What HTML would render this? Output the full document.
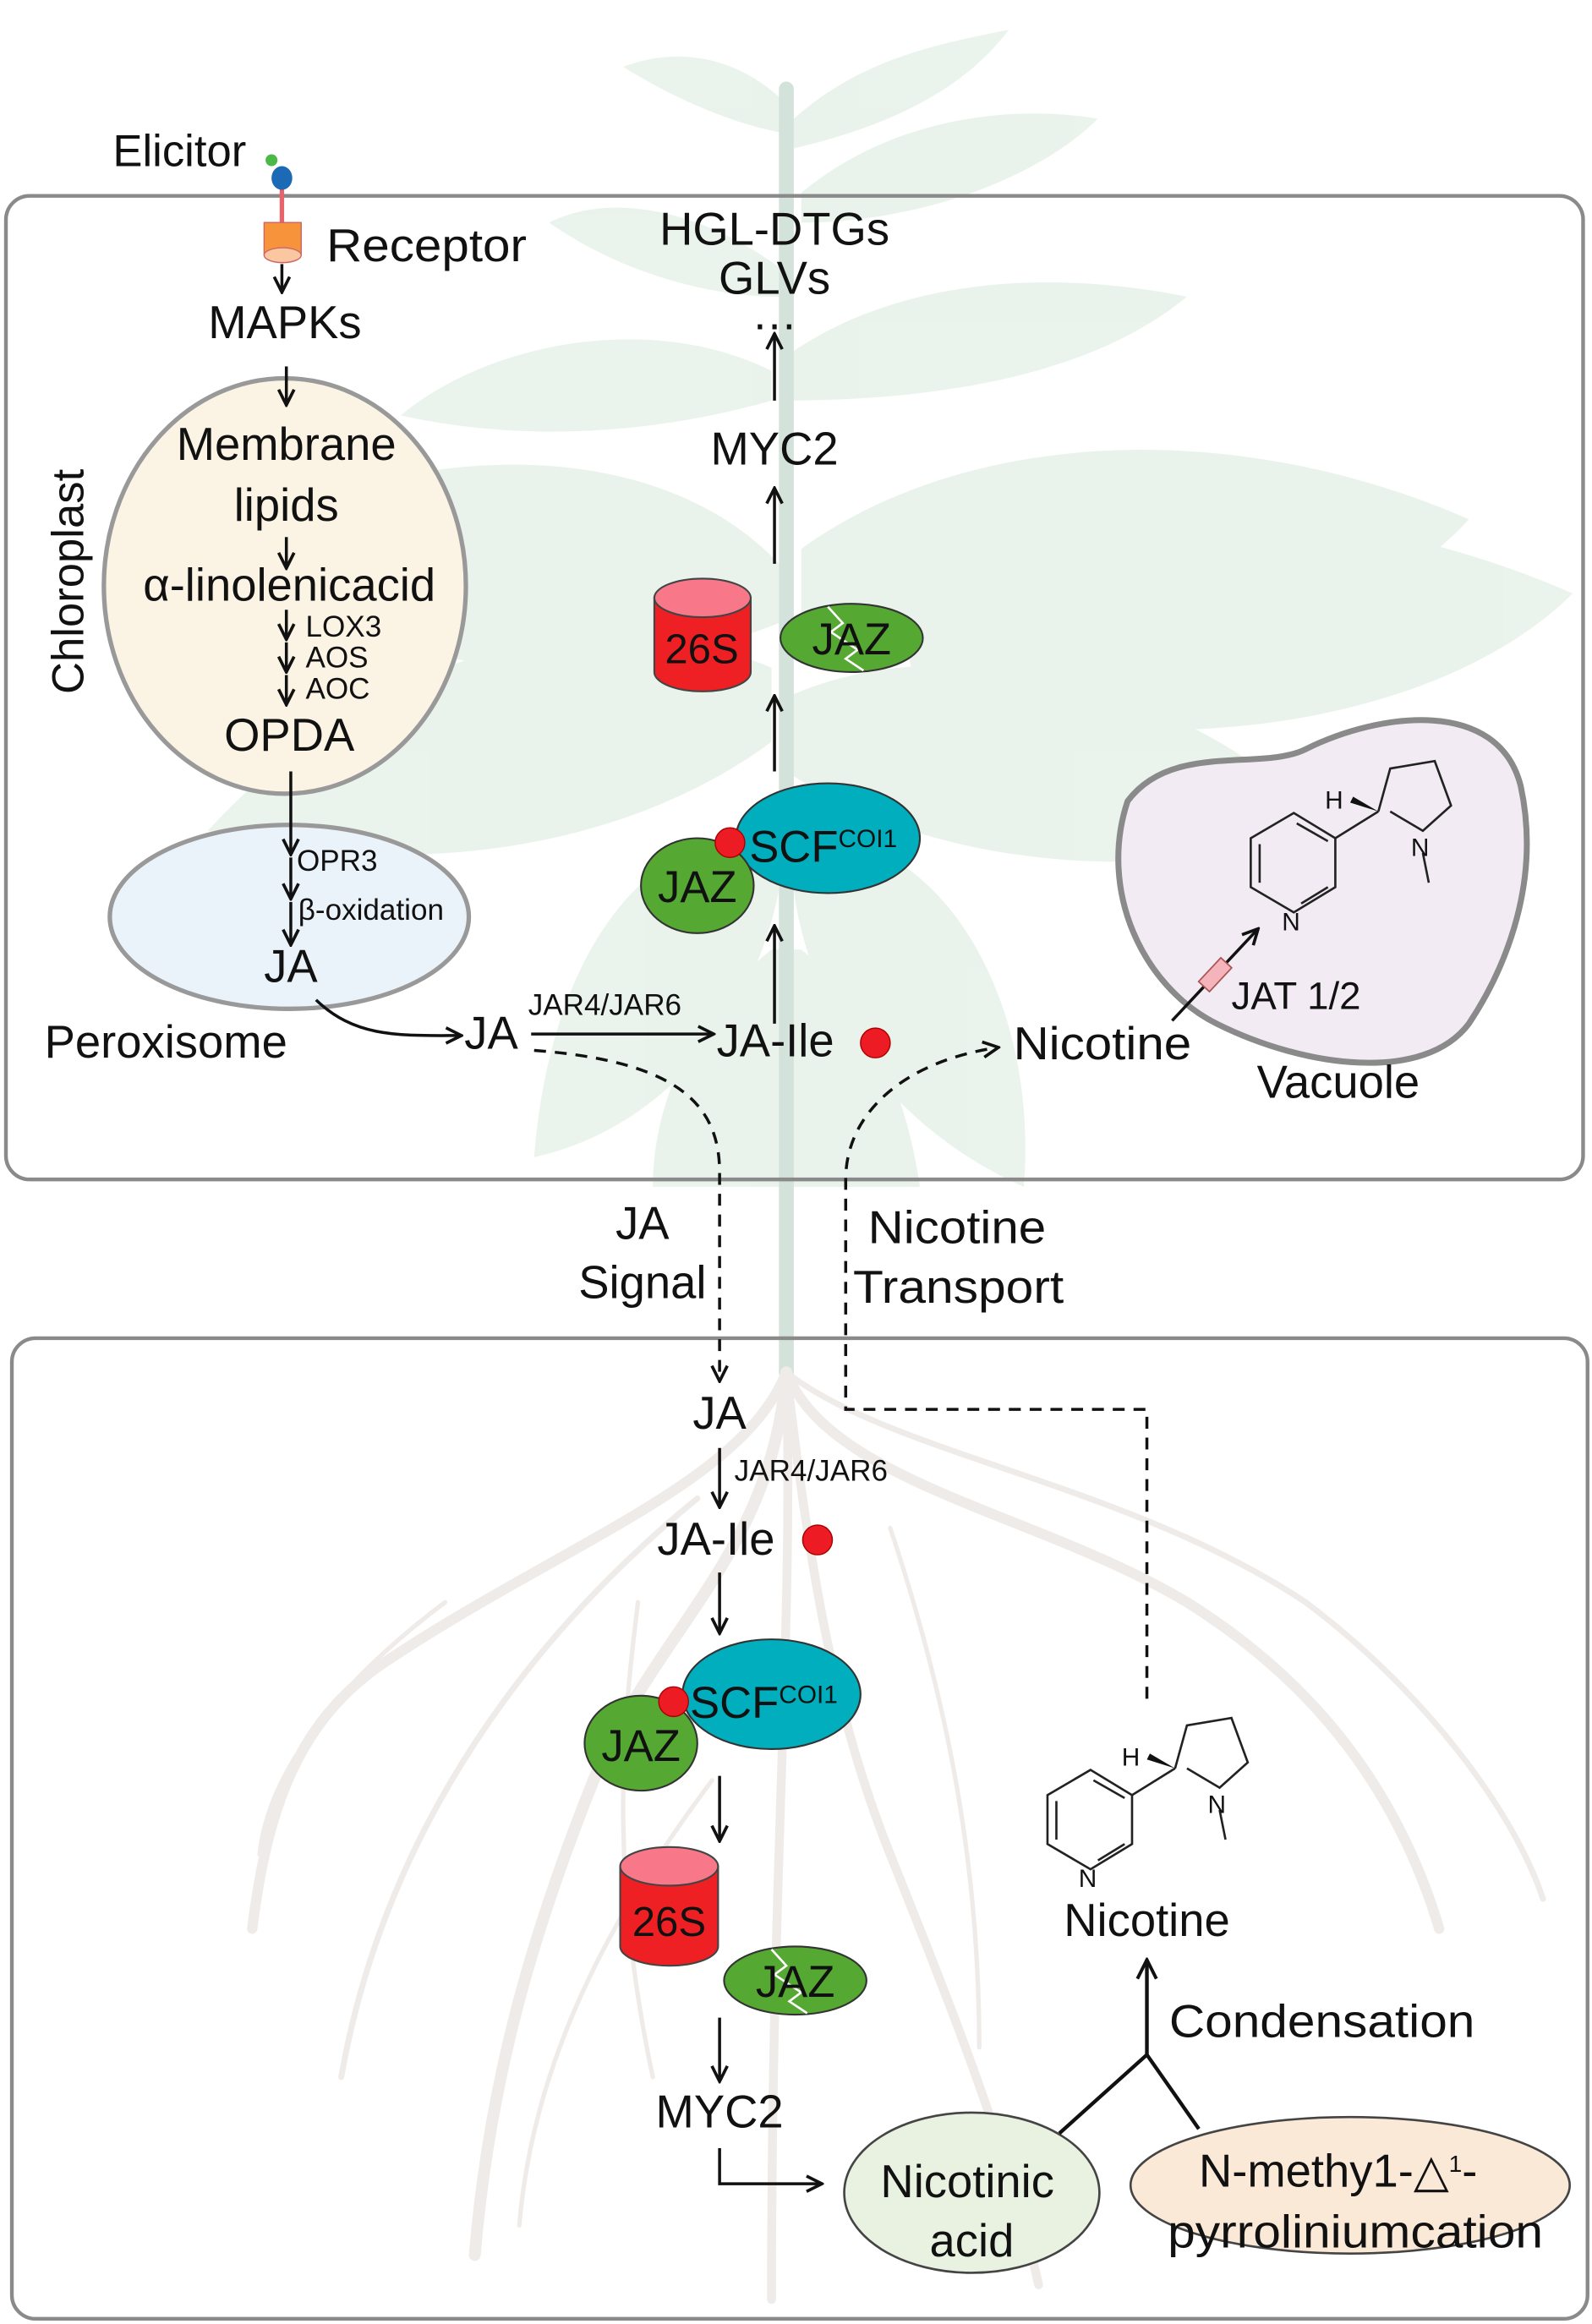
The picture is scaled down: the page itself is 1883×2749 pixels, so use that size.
<!DOCTYPE html>
<html><head><meta charset="utf-8"><style>
html,body{margin:0;padding:0;background:#fff;}
svg{display:block;}
text{font-family:"Liberation Sans",Arial,sans-serif;fill:#111;}
</style></head><body>
<svg width="1883" height="2749" viewBox="0 0 1073 1566.5" preserveAspectRatio="none" xmlns="http://www.w3.org/2000/svg">
<defs>
<marker id="ah" viewBox="0 0 10 10" refX="9" refY="5" markerWidth="13" markerHeight="13" orient="auto" markerUnits="userSpaceOnUse">
<path d="M1,1 L9,5 L1,9" fill="none" stroke="#111" stroke-width="1.6"/>
</marker>
<marker id="ahb" viewBox="0 0 10 10" refX="9" refY="5" markerWidth="16" markerHeight="16" orient="auto" markerUnits="userSpaceOnUse">
<path d="M1,1 L9,5 L1,9" fill="none" stroke="#111" stroke-width="1.4"/>
</marker>
<g id="nic">
<polygon points="706,1210 735,1193 763,1210 763,1243 735,1260 706,1243" fill="none" stroke="#222" stroke-width="1.5"/>
<line x1="712" y1="1214" x2="712" y2="1240" stroke="#222" stroke-width="1.5"/>
<line x1="737" y1="1200" x2="758" y2="1212" stroke="#222" stroke-width="1.5"/>
<line x1="740" y1="1254" x2="758" y2="1243" stroke="#222" stroke-width="1.5"/>
<line x1="763" y1="1210" x2="792" y2="1192" stroke="#222" stroke-width="1.5"/>
<polygon points="792,1192 775,1182 773,1186" fill="#111"/>
<polyline points="792,1192 800,1163 830,1158 841,1188 822,1205 800,1192" fill="none" stroke="#222" stroke-width="1.5"/>
<line x1="822" y1="1220" x2="826" y2="1240" stroke="#222" stroke-width="1.5"/>
<text x="727" y="1272" font-size="17">N</text>
<text x="814" y="1222" font-size="17">N</text>
<text x="756" y="1190" font-size="17">H</text>
</g>
</defs>

<g fill="#dcecdf" opacity="0.6">
<path d="M530,70 C500,40 460,30 420,45 C460,70 500,85 530,90Z"/>
<path d="M535,80 C580,40 630,30 680,20 C650,60 600,85 535,100Z"/>
<path d="M540,130 C600,80 680,70 740,80 C700,120 620,150 540,150Z"/>
<path d="M525,180 C470,140 410,130 370,150 C420,185 480,200 525,200Z"/>
<path d="M530,240 C600,190 700,180 800,200 C740,250 640,270 530,270Z"/>
<path d="M520,250 C440,210 330,230 270,280 C360,300 450,290 520,270Z"/>
<path d="M525,380 C450,300 300,290 150,360 C230,460 400,470 525,420Z"/>
<path d="M540,370 C650,290 830,280 990,350 C900,450 700,460 540,420Z"/>
<path d="M600,400 C720,330 900,330 1060,400 C980,480 800,520 620,470Z"/>
<path d="M520,450 C400,400 250,440 140,560 C300,600 440,560 520,500Z"/>
<path d="M530,470 C640,420 800,460 900,560 C760,600 620,580 530,520Z"/>
<path d="M520,560 C430,560 370,650 360,780 C450,760 510,680 525,600Z"/>
<path d="M535,560 C640,560 700,680 690,800 C600,760 545,680 535,600Z"/>
<path d="M520,640 C470,680 440,740 440,800 L620,800 C610,730 580,670 540,640Z"/>
</g>
<line x1="530" y1="60" x2="530" y2="925" stroke="#d3e2da" stroke-width="10" stroke-linecap="round"/>

<g fill="none" stroke="#efebe8" stroke-linecap="round">
<path d="M530,925 C500,1000 380,1040 260,1120 C200,1160 180,1220 170,1300" stroke-width="7"/>
<path d="M530,925 C560,1000 700,1020 800,1080 C880,1130 940,1200 970,1300" stroke-width="7"/>
<path d="M530,925 C520,1050 440,1100 400,1200 C360,1300 330,1400 320,1520" stroke-width="8"/>
<path d="M530,925 C545,1050 560,1150 600,1250 C640,1350 680,1450 700,1540" stroke-width="6"/>
<path d="M530,925 C535,1100 520,1250 520,1550" stroke-width="6"/>
<path d="M530,925 C600,980 760,1000 880,1080 C960,1140 1020,1220 1040,1280" stroke-width="4"/>
<path d="M470,1010 C360,1100 260,1230 230,1400" stroke-width="4"/>
<path d="M430,1080 C420,1160 410,1260 440,1400" stroke-width="3"/>
<path d="M600,1030 C640,1150 660,1260 660,1380" stroke-width="3"/>
<path d="M300,1080 C220,1140 180,1200 175,1250" stroke-width="3"/>
<path d="M480,1200 C420,1280 360,1380 350,1500" stroke-width="3"/>
</g>

<rect x="4" y="132" width="1063" height="663" rx="16" fill="none" stroke="#8a8a8a" stroke-width="2.5"/>
<rect x="8" y="902" width="1062" height="661" rx="16" fill="none" stroke="#8a8a8a" stroke-width="2.5"/>

<text x="76" y="112" font-size="30">Elicitor</text>
<line x1="190" y1="127" x2="190" y2="150" stroke="#e8646a" stroke-width="3"/>
<circle cx="183" cy="108" r="4" fill="#4cb848"/>
<ellipse cx="190" cy="120" rx="7" ry="8" fill="#1c6ab5"/>
<rect x="178" y="150" width="25" height="22" fill="#f7943b" stroke="#c66" stroke-width="0.8"/>
<ellipse cx="190.5" cy="172" rx="12.5" ry="5" fill="#fbc7a1" stroke="#c66" stroke-width="0.8"/>
<line x1="190" y1="178" x2="190" y2="197" stroke="#111" stroke-width="2" marker-end="url(#ah)"/>
<text x="220" y="176" font-size="31" textLength="135" lengthAdjust="spacingAndGlyphs">Receptor</text>
<text x="192" y="228" font-size="31" text-anchor="middle">MAPKs</text>

<ellipse cx="192" cy="395" rx="122" ry="140" fill="#fbf3e3" stroke="#999" stroke-width="3"/>
<line x1="193" y1="247" x2="193" y2="273" stroke="#111" stroke-width="2" marker-end="url(#ah)"/>
<text x="56" y="392" font-size="30" text-anchor="middle" transform="rotate(-90 56 392)">Chloroplast</text>
<text x="193" y="310" font-size="31" text-anchor="middle">Membrane</text>
<text x="193" y="351" font-size="31" text-anchor="middle">lipids</text>
<line x1="193" y1="362" x2="193" y2="383" stroke="#111" stroke-width="2" marker-end="url(#ah)"/>
<text x="195" y="405" font-size="31" text-anchor="middle">α-linolenicacid</text>
<line x1="193" y1="411" x2="193" y2="431" stroke="#111" stroke-width="2" marker-end="url(#ah)"/>
<line x1="193" y1="433" x2="193" y2="453" stroke="#111" stroke-width="2" marker-end="url(#ah)"/>
<line x1="193" y1="455" x2="193" y2="475" stroke="#111" stroke-width="2" marker-end="url(#ah)"/>
<text x="206" y="429" font-size="20">LOX3</text>
<text x="206" y="450" font-size="20">AOS</text>
<text x="206" y="471" font-size="20">AOC</text>
<text x="195" y="506" font-size="31" text-anchor="middle">OPDA</text>

<ellipse cx="195" cy="618" rx="121" ry="62" fill="#eaf3fa" stroke="#999" stroke-width="3"/>
<line x1="196" y1="520" x2="196" y2="576" stroke="#111" stroke-width="2" marker-end="url(#ah)"/>
<line x1="196" y1="578" x2="196" y2="606" stroke="#111" stroke-width="2" marker-end="url(#ah)"/>
<line x1="196" y1="608" x2="196" y2="637" stroke="#111" stroke-width="2" marker-end="url(#ah)"/>
<text x="200" y="587" font-size="20">OPR3</text>
<text x="201" y="620" font-size="20">β-oxidation</text>
<text x="196" y="662" font-size="31" text-anchor="middle">JA</text>
<text x="30" y="713" font-size="31">Peroxisome</text>
<path d="M213,674 C240,700 270,698 311,698" fill="none" stroke="#111" stroke-width="2" marker-end="url(#ah)"/>
<text x="313" y="707" font-size="31">JA</text>
<line x1="358" y1="697" x2="481" y2="697" stroke="#111" stroke-width="2" marker-end="url(#ah)"/>
<text x="356" y="684" font-size="20">JAR4/JAR6</text>
<text x="483" y="712" font-size="31">JA-Ile</text>
<circle cx="590" cy="703" r="10" fill="#ed1c24" stroke="#a00" stroke-width="0.8"/>

<text x="522" y="165" font-size="31" text-anchor="middle">HGL-DTGs</text>
<text x="522" y="198" font-size="31" text-anchor="middle">GLVs</text>
<text x="522" y="222" font-size="31" text-anchor="middle">…</text>
<line x1="522" y1="270" x2="522" y2="225" stroke="#111" stroke-width="2" marker-end="url(#ah)"/>
<text x="522" y="313" font-size="31" text-anchor="middle">MYC2</text>
<line x1="522" y1="380" x2="522" y2="329" stroke="#111" stroke-width="2" marker-end="url(#ah)"/>
<path d="M441,403 L441,453 A32.5,13 0 0 0 506,453 L506,403Z" fill="#ee2024" stroke="#444" stroke-width="1.2"/>
<ellipse cx="473.5" cy="403" rx="32.5" ry="13" fill="#f8788a" stroke="#444" stroke-width="1.2"/>
<text x="473" y="447" font-size="28" text-anchor="middle">26S</text>
<ellipse cx="574" cy="430" rx="48" ry="23" fill="#55a832" stroke="#333" stroke-width="1.2"/>
<polyline points="558,409 568,420 560,426 578,438 570,444 582,452" fill="none" stroke="#fff" stroke-width="1.5"/>
<text x="574" y="441" font-size="30" text-anchor="middle">JAZ</text>
<line x1="522" y1="520" x2="522" y2="469" stroke="#111" stroke-width="2" marker-end="url(#ah)"/>
<ellipse cx="558" cy="565" rx="62" ry="37" fill="#00aebe" stroke="#333" stroke-width="1.2"/>
<ellipse cx="470" cy="597" rx="38" ry="32" fill="#55a832" stroke="#333" stroke-width="1.2"/>
<circle cx="492" cy="568" r="10" fill="#ed1c24" stroke="#a00" stroke-width="0.8"/>
<text x="505" y="581" font-size="30">SCF<tspan font-size="17" dy="-10">COI1</tspan></text>
<text x="470" y="608" font-size="30" text-anchor="middle">JAZ</text>
<line x1="522" y1="690" x2="522" y2="624" stroke="#111" stroke-width="2" marker-end="url(#ah)"/>

<path d="M760,540 C790,500 850,520 880,505 C930,480 1010,470 1025,530 C1040,600 1010,660 990,690 C960,730 880,720 820,690 C770,665 740,600 760,540Z" fill="#f2ebf3" stroke="#8a8a8a" stroke-width="4"/>
<use href="#nic" transform="translate(137,-645)"/>
<line x1="790" y1="688" x2="848" y2="626" stroke="#111" stroke-width="2" marker-end="url(#ah)"/>
<rect x="808" y="652" width="22" height="10" fill="#f5b4bb" stroke="#a55" stroke-width="1" transform="rotate(-47 819 657)"/>
<text x="830" y="680" font-size="26">JAT 1/2</text>
<text x="902" y="740" font-size="31" text-anchor="middle">Vacuole</text>
<text x="683" y="714" font-size="31" textLength="120" lengthAdjust="spacingAndGlyphs">Nicotine</text>

<path d="M360,708 C450,715 485,740 485,790 L485,931" fill="none" stroke="#111" stroke-width="2" stroke-dasharray="8,6" marker-end="url(#ah)"/>
<path d="M773,1145 L773,950 L570,950 L570,795 C570,750 610,715 673,706" fill="none" stroke="#111" stroke-width="2" stroke-dasharray="8,6" marker-end="url(#ah)"/>
<text x="433" y="835" font-size="31" text-anchor="middle">JA</text>
<text x="433" y="875" font-size="31" text-anchor="middle">Signal</text>
<text x="585" y="838" font-size="31" textLength="120" lengthAdjust="spacingAndGlyphs">Nicotine</text>
<text x="575" y="878" font-size="31" textLength="142" lengthAdjust="spacingAndGlyphs">Transport</text>

<text x="485" y="963" font-size="31" text-anchor="middle">JA</text>
<line x1="485" y1="976" x2="485" y2="1016" stroke="#111" stroke-width="2" marker-end="url(#ah)"/>
<text x="495" y="998" font-size="20">JAR4/JAR6</text>
<text x="443" y="1048" font-size="31">JA-Ile</text>
<circle cx="551" cy="1038" r="10" fill="#ed1c24" stroke="#a00" stroke-width="0.8"/>
<line x1="485" y1="1060" x2="485" y2="1101" stroke="#111" stroke-width="2" marker-end="url(#ah)"/>
<ellipse cx="520" cy="1142" rx="60" ry="37" fill="#00aebe" stroke="#333" stroke-width="1.2"/>
<ellipse cx="432" cy="1175" rx="38" ry="32" fill="#55a832" stroke="#333" stroke-width="1.2"/>
<circle cx="454" cy="1147" r="10" fill="#ed1c24" stroke="#a00" stroke-width="0.8"/>
<text x="465" y="1158" font-size="30">SCF<tspan font-size="17" dy="-10">COI1</tspan></text>
<text x="432" y="1187" font-size="30" text-anchor="middle">JAZ</text>
<line x1="485" y1="1197" x2="485" y2="1241" stroke="#111" stroke-width="2" marker-end="url(#ah)"/>
<path d="M418,1258 L418,1312 A33,13 0 0 0 484,1312 L484,1258Z" fill="#ee2024" stroke="#444" stroke-width="1.2"/>
<ellipse cx="451" cy="1258" rx="33" ry="13" fill="#f8788a" stroke="#444" stroke-width="1.2"/>
<text x="451" y="1305" font-size="28" text-anchor="middle">26S</text>
<ellipse cx="536" cy="1335" rx="48" ry="23" fill="#55a832" stroke="#333" stroke-width="1.2"/>
<polyline points="520,1314 530,1325 522,1331 540,1343 532,1349 544,1357" fill="none" stroke="#fff" stroke-width="1.5"/>
<text x="536" y="1346" font-size="30" text-anchor="middle">JAZ</text>
<line x1="485" y1="1360" x2="485" y2="1403" stroke="#111" stroke-width="2" marker-end="url(#ah)"/>
<text x="485" y="1434" font-size="31" text-anchor="middle">MYC2</text>
<polyline points="485,1448 485,1472 554,1472" fill="none" stroke="#111" stroke-width="2" marker-end="url(#ah)"/>

<ellipse cx="655" cy="1478" rx="86" ry="54" fill="#e9f2e1" stroke="#444" stroke-width="1.5"/>
<text x="652" y="1481" font-size="31" text-anchor="middle">Nicotinic</text>
<text x="655" y="1521" font-size="31" text-anchor="middle">acid</text>
<ellipse cx="910" cy="1473" rx="148" ry="46" fill="#fbe9d8" stroke="#444" stroke-width="1.5"/>
<text x="808" y="1474" font-size="31">N-methy1-△<tspan font-size="16" dy="-10">1</tspan><tspan dy="10">-</tspan></text>
<text x="787" y="1515" font-size="31" textLength="253" lengthAdjust="spacingAndGlyphs">pyrroliniumcation</text>
<polyline points="714,1438 773,1385 808,1435" fill="none" stroke="#111" stroke-width="2.5"/>
<line x1="773" y1="1385" x2="773" y2="1321" stroke="#111" stroke-width="2.5" marker-end="url(#ahb)"/>
<text x="788" y="1373" font-size="31" textLength="206" lengthAdjust="spacingAndGlyphs">Condensation</text>
<use href="#nic"/>
<text x="773" y="1305" font-size="31" text-anchor="middle">Nicotine</text>
</svg>
</body></html>
